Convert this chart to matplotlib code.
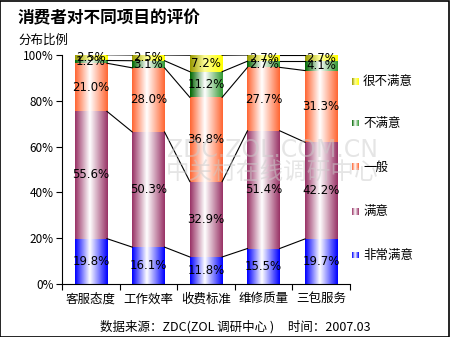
import numpy as np
import matplotlib
matplotlib.use("Agg")
import matplotlib.pyplot as plt
from matplotlib.colors import to_rgb
from matplotlib.patches import Rectangle

plt.rcParams['font.family'] = ['Noto Sans CJK SC', 'DejaVu Sans']

categories = ["客服态度", "工作效率", "收费标准", "维修质量", "三包服务"]
series_names = ["非常满意", "满意", "一般", "不满意", "很不满意"]
very_satisfied = [19.8, 16.1, 11.8, 15.5, 19.7]
satisfied = [55.6, 50.3, 32.9, 51.4, 42.2]
neutral = [21.0, 28.0, 36.8, 27.7, 31.3]
unsatisfied = [1.2, 3.1, 11.2, 2.7, 4.1]
very_unsatisfied = [2.5, 2.5, 7.2, 2.7, 2.7]
values = [very_satisfied, satisfied, neutral, unsatisfied, very_unsatisfied]

# (left edge colour, middle colour, right edge colour)
grads = [
    ("#0000FF", "#FFFFFF", "#0000FF"),
    ("#993366", "#FFFFFF", "#993366"),
    ("#FF6633", "#FFFFFF", "#FF6633"),
    ("#006600", "#FFFFFF", "#339933"),
    ("#999900", "#FFFF99", "#FFFF00"),
]


def grad_img(c0, c1, c2, n=64, mid=0.45):
    t = np.linspace(0, 1, n)
    a, b, c = np.array(to_rgb(c0)), np.array(to_rgb(c1)), np.array(to_rgb(c2))
    img = np.zeros((1, n, 3))
    for i, x in enumerate(t):
        if x < mid:
            f = x / mid
            img[0, i] = a * (1 - f) + b * f
        else:
            f = (x - mid) / (1 - mid)
            img[0, i] = b * (1 - f) + c * f
    return img


W, H = 450, 337
fig = plt.figure(figsize=(4.5, 3.37), dpi=100)
ax = fig.add_axes([62 / W, 1 - 284 / H, (350 - 62) / W, (284 - 55) / H])

x = np.arange(len(categories))
w = 0.56
bottom = np.zeros(len(categories))
tops = []
for vals, g in zip(values, grads):
    img = grad_img(*g)
    for i, v in enumerate(vals):
        ax.imshow(img, extent=(x[i] - w / 2, x[i] + w / 2, bottom[i], bottom[i] + v),
                  aspect="auto", interpolation="bilinear", zorder=2)
        ax.text(x[i], bottom[i] + v / 2, f"{v:.1f}%", ha="center", va="center",
                fontsize=8.5, family=["DejaVu Sans"], zorder=4)
    bottom = bottom + np.array(vals)
    tops.append(bottom.copy())

# series lines between bars
for cum in tops:
    for i in range(len(categories) - 1):
        ax.plot([x[i] + w / 2, x[i + 1] - w / 2], [cum[i], cum[i + 1]],
                color="black", lw=0.8, zorder=3)

ax.set_xlim(-0.5, len(categories) - 0.5)
ax.set_ylim(0, 100)
ax.set_yticks(range(0, 101, 20))
ax.set_yticklabels([f"{t}%" for t in range(0, 101, 20)], fontsize=8.5)
ax.set_xticks(np.arange(-0.5, len(categories), 1.0))
ax.set_xticklabels([])
ax.set_xticks(x, minor=True)
ax.set_xticklabels(categories, minor=True, fontsize=9)
ax.tick_params(axis="x", which="minor", length=0, pad=6)
ax.tick_params(axis="x", which="major", length=4, direction="out")
ax.tick_params(axis="y", length=4, direction="out", pad=2)
ax.spines["top"].set_visible(False)
ax.spines["right"].set_visible(False)
ax.spines["left"].set_zorder(5)
ax.spines["bottom"].set_zorder(5)

# watermark
fig.text(272 / W, 1 - 150 / H, "ZDC.ZOL.COM.CN", ha="center", va="center",
         fontsize=17, color="#cccccc", alpha=0.5, family=["DejaVu Sans"])
fig.text(272 / W, 1 - 172 / H, "中关村在线调研中心", ha="center", va="center",
         fontsize=17, color="#cccccc", alpha=0.5)

# titles
fig.text(18 / W, 1 - 18 / H, "消费者对不同项目的评价", ha="left", va="center",
         fontsize=12, fontweight="bold")
fig.text(18 / W, 1 - 40 / H, "分布比例", ha="left", va="center", fontsize=9)
fig.text(235 / W, 1 - 327 / H, "数据来源：ZDC(ZOL 调研中心 )     时间：2007.03",
         ha="center", va="center", fontsize=9)

# legend
leg_y = [255, 211, 167, 123, 81]
for name, g, yy in zip(series_names, grads, leg_y):
    lax = fig.add_axes([352 / W, 1 - (yy + 3.5) / H, 7 / W, 7 / H])
    lax.imshow(grad_img(*g), aspect="auto", extent=(0, 1, 0, 1))
    lax.axis("off")
    fig.text(363 / W, 1 - yy / H, name, ha="left", va="center", fontsize=9)

# frame
fig.patches.append(Rectangle((0.001, 0.001), 0.997, 0.997, transform=fig.transFigure,
                             fill=False, edgecolor="black", lw=1.2))

fig.savefig("out.png", dpi=100)
